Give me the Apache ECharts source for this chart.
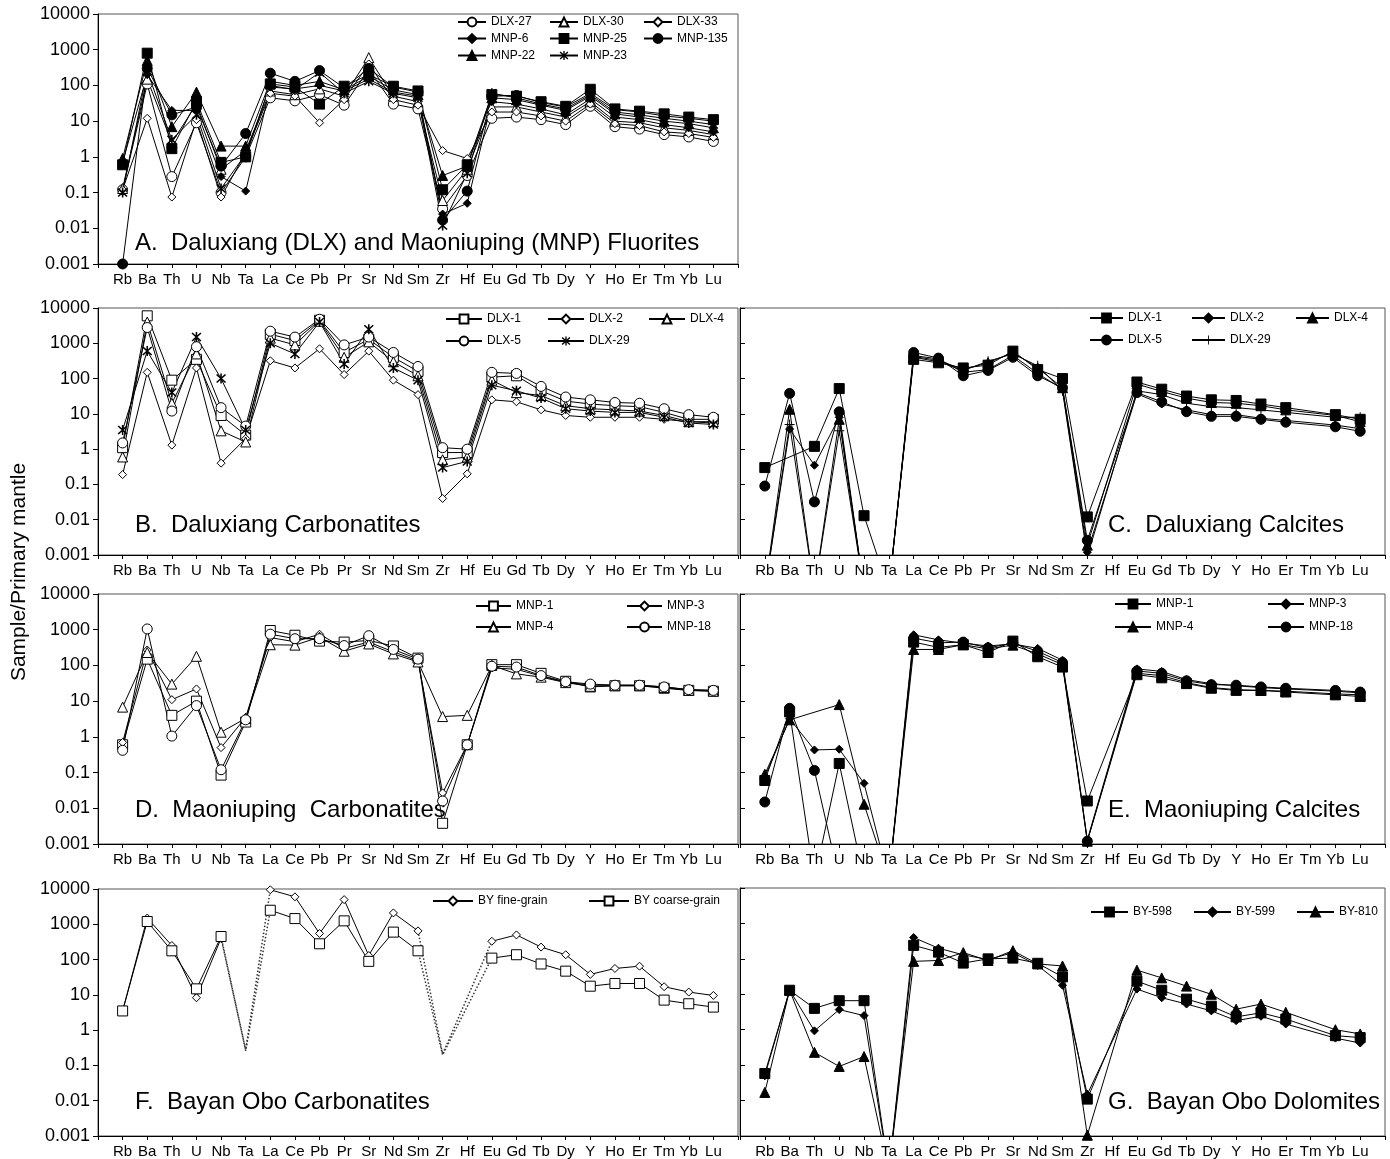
<!DOCTYPE html>
<html>
<head>
<meta charset="utf-8">
<script src="https://cdn.jsdelivr.net/npm/echarts@6/dist/echarts.min.js"></script>
<style>
  html, body { margin: 0; padding: 0; background: #fff; }
  #chart { width: 1390px; height: 1159px; }
</style>
</head>
<body>
<div id="chart"></div>
<script>
// Element order of the primitive-mantle normalised spider diagrams
const ELEMENTS = ['Rb','Ba','Th','U','Nb','Ta','La','Ce','Pb','Pr','Sr','Nd','Sm','Zr','Hf','Eu','Gd','Tb','Dy','Y','Ho','Er','Tm','Yb','Lu'];
const Y_TICK_LABELS = ['0.001','0.01','0.1','1','10','100','1000','10000'];
// Stand-in for contents that fall far below the plotted range (lines leave the frame)
const BELOW = 1e-4;

// A. Daluxiang (DLX) and Maoniuping (MNP) fluorites
const A_DLX27  = [0.12, 110, 0.28, 9, 0.1, 1.0, 45, 37, 55, 28, 280, 30, 22, 0.035, 0.3, 12, 13, 11, 8, 26, 7, 6, 4.2, 3.6, 2.7];
const A_DLX30  = [0.13, 150, 2.5, 30, 0.45, 1.5, 70, 55, 80, 50, 600, 50, 35, 0.06, 0.45, 25, 25, 18, 13, 35, 10, 9, 6.5, 5.5, 4.2];
const A_DLX33  = [0.12, 12, 0.075, 11, 0.075, 1.3, 60, 50, 9, 40, 400, 40, 28, 1.5, 0.9, 18, 18, 14, 10, 30, 8.5, 7.5, 5, 4.5, 3.5];
const A_MNP6   = [0.7, 200, 20, 20, 0.28, 0.11, 90, 80, 100, 70, 150, 65, 50, 0.025, 0.05, 35, 30, 22, 15, 42, 13, 11, 8, 6.5, 5];
const A_MNP25  = [0.6, 800, 1.7, 35, 0.7, 1.0, 110, 90, 30, 95, 200, 95, 70, 0.12, 0.6, 55, 50, 35, 26, 78, 22, 19, 16, 13, 11];
const A_MNP135 = [0.001, 300, 15, 25, 0.55, 4.5, 220, 130, 260, 85, 300, 90, 65, 0.017, 0.11, 50, 52, 33, 25, 60, 21, 18, 14, 12, 10];
const A_MNP22  = [0.9, 500, 7, 65, 2.0, 2.0, 130, 100, 130, 75, 180, 75, 55, 0.3, 0.55, 45, 40, 28, 20, 50, 16, 13, 10, 8.5, 6.5];
const A_MNP23  = [0.1, 250, 3, 15, 0.13, 1.2, 100, 75, 230, 60, 130, 60, 45, 0.012, 0.35, 60, 45, 30, 22, 55, 18, 15, 12, 10, 8];

// B. Daluxiang carbonatites
const B_DLX1  = [1.1, 6000, 90, 350, 9, 2.5, 1800, 1200, 4500, 550, 1300, 400, 160, 0.8, 0.8, 110, 120, 45, 23, 19, 17, 16, 11, 7, 7];
const B_DLX2  = [0.19, 150, 1.3, 200, 0.4, 2.0, 320, 200, 700, 130, 600, 90, 35, 0.04, 0.2, 25, 22, 13, 9, 8, 8, 8, 7, 6, 5.5];
const B_DLX4  = [0.6, 4000, 20, 500, 3.3, 1.6, 1400, 900, 4200, 400, 1100, 300, 120, 0.5, 0.6, 90, 40, 33, 17, 14, 13, 12, 9, 6, 6];
const B_DLX5  = [1.5, 2800, 12, 800, 15, 4.5, 2200, 1500, 4800, 900, 1500, 550, 220, 1.1, 1.0, 150, 140, 60, 30, 25, 21, 20, 14, 9.5, 8];
const B_DLX29 = [3.5, 600, 40, 1500, 100, 3.5, 1000, 500, 4000, 260, 2500, 200, 90, 0.3, 0.45, 65, 45, 28, 14, 12, 11, 11, 8, 5.5, 5];

// C. Daluxiang calcites (null = not determined)
const C_DLX1  = [0.3, null, 1.2, 52, 0.013, BELOW, 350, 280, 200, 240, 600, 180, 100, 0.012, null, 80, 50, 32, 25, 24, 19, 15, null, 9.5, 7];
const C_DLX2  = [BELOW, 3.7, 0.35, 8, BELOW, BELOW, 450, 360, 150, 180, 450, 140, 50, 0.0012, null, 37, 19, 13, 9.5, 9.5, 7.5, 6.5, null, 4.8, 3.8];
const C_DLX4  = [BELOW, 13.5, BELOW, 7, BELOW, BELOW, 420, 330, 180, 280, 550, 200, 55, 0.0019, null, 70, 43, 28, 21, 20, 17, 13, null, 9, 6];
const C_DLX5  = [0.09, 38, 0.032, 11.4, BELOW, BELOW, 550, 380, 120, 170, 400, 120, 55, 0.0026, null, 40, 22, 11.5, 8.5, 8.5, 7, 5.8, null, 4.3, 3.2];
const C_DLX29 = [BELOW, 5, BELOW, 3.3, BELOW, BELOW, 400, 300, 170, 310, 500, 230, 45, 0.0009, null, 45, 35, 20, 16, 15, 13, 11, null, 8, 8];

// D. Maoniuping carbonatites
const D_MNP1  = [0.6, 150, 4, 10, 0.085, 2.6, 950, 700, 480, 450, 500, 350, 160, 0.0038, 0.6, 105, 105, 60, 36, 25, 27, 27, 23, 20, 19];
const D_MNP3  = [0.7, 270, 11, 22, 0.5, 3.5, 600, 460, 750, 300, 450, 240, 135, 0.027, 0.6, 85, 78, 50, 34, 28, 28, 28, 25, 21, 20];
const D_MNP4  = [6.8, 230, 30, 180, 1.35, 3.3, 380, 370, 620, 250, 400, 210, 125, 3.7, 4.0, 100, 58, 47, 33, 26, 27, 27, 24, 20, 19];
const D_MNP18 = [0.42, 1050, 1.05, 7.5, 0.12, 3.0, 750, 560, 560, 360, 680, 280, 150, 0.016, 0.6, 95, 90, 52, 35, 30, 28, 28, 25, 21, 20];

// E. Maoniuping calcites
const E_MNP1  = [0.06, 5, BELOW, 0.18, BELOW, BELOW, 450, 320, 380, 230, 480, 175, 90, 0.016, null, 55, 45, 31, 23, 20, 20, 18, null, 15, 13.5];
const E_MNP3  = [0.075, 3.2, 0.43, 0.45, 0.05, BELOW, 720, 520, 420, 350, 400, 300, 140, 0.0013, null, 80, 68, 40, 31, 27, 24, 22, null, 19, 17];
const E_MNP4  = [0.09, 3.0, null, 8, 0.013, BELOW, 280, 280, 380, 290, 370, 210, 105, 0.0012, null, 60, 52, 33, 24, 21, 20, 19, null, 16, 15];
const E_MNP18 = [0.015, 6.3, 0.115, BELOW, BELOW, BELOW, 580, 430, 450, 310, 420, 250, 120, 0.0012, null, 70, 60, 37, 29, 28, 25, 23, null, 20, 18];

// F. Bayan Obo carbonatites (Ta and Zr are estimated, drawn as dotted links)
const F_FINE   = [3.5, 1500, 250, 8.3, 400, 0.28, 9500, 6000, 550, 5000, 130, 2100, 650, 0.21, null, 330, 500, 226, 137, 38, 56, 65, 17, 12, 9.6];
const F_COARSE = [3.5, 1200, 177, 14.8, 450, 0.26, 2500, 1450, 280, 1250, 89, 600, 177, 0.2, null, 110, 137, 75, 47, 17.6, 21, 21, 7.1, 5.6, 4.5];
const F_ESTIMATED = ['Ta', 'Zr'];

// G. Bayan Obo dolomites
const G_BY598 = [0.058, 13, 4.0, 6.6, 6.6, BELOW, 240, 155, 76, 100, 105, 75, 31, 0.011, null, 23.5, 13, 7.3, 4.6, 2.3, 3.0, 2.0, null, 0.68, 0.6];
const G_BY599 = [0.05, 13, 0.93, 3.7, 2.5, BELOW, 400, 200, 130, 95, 150, 65, 18, 0.015, null, 14, 8, 5.3, 3.4, 1.8, 2.4, 1.45, null, 0.58, 0.42];
const G_BY810 = [0.017, 13, 0.23, 0.092, 0.175, BELOW, 85, 90, 150, 90, 170, 72, 63, 0.00105, null, 48, 29, 17, 10, 3.8, 5.3, 3.1, null, 1.0, 0.76];

// ---------------------------------------------------------------------------
const FONT = "'Liberation Sans', Arial, Helvetica, sans-serif";
const ASTERISK = 'path://M4.3,0L5.7,0L5.7,10L4.3,10Z M0.5,1.5L1.5,0.5L9.5,8.5L8.5,9.5Z M8.5,0.5L9.5,1.5L1.5,9.5L0.5,8.5Z';
const PLUS = 'path://M4.5,0L5.5,0L5.5,10L4.5,10Z M0,4.5L10,4.5L10,5.5L0,5.5Z';

const MARK = {
  openCircle:   { symbol: 'circle',   size: 10, fill: '#fff' },
  openSquare:   { symbol: 'rect',     size: 10, fill: '#fff' },
  openTriangle: { symbol: 'triangle', size: 10, fill: '#fff' },
  openDiamond:  { symbol: 'diamond',  size: 8,  fill: '#fff' },
  circle:       { symbol: 'circle',   size: 10, fill: '#000' },
  square:       { symbol: 'rect',     size: 10, fill: '#000' },
  triangle:     { symbol: 'triangle', size: 10, fill: '#000' },
  diamond:      { symbol: 'diamond',  size: 8,  fill: '#000' },
  asterisk:     { symbol: ASTERISK,   size: 10, fill: '#000', path: true },
  plus:         { symbol: PLUS,       size: 10, fill: '#000', path: true }
};

const PANELS = [
  { key: 'A', grid: { left: 98, top: 14, width: 640, height: 250 }, yLabels: true, connect: false,
    title: 'A.  Daluxiang (DLX) and Maoniuping (MNP) Fluorites', titleAt: [135, 243],
    samples: [['DLX-27', A_DLX27, 'openCircle'], ['DLX-30', A_DLX30, 'openTriangle'], ['DLX-33', A_DLX33, 'openDiamond'],
              ['MNP-6', A_MNP6, 'diamond'], ['MNP-25', A_MNP25, 'square'], ['MNP-135', A_MNP135, 'circle'],
              ['MNP-22', A_MNP22, 'triangle'], ['MNP-23', A_MNP23, 'asterisk']],
    legend: { rows: [23, 39.5, 56.5], cols: [457, 549, 643], iconW: 28 } },
  { key: 'B', grid: { left: 98, top: 308, width: 640, height: 247 }, yLabels: true, connect: false,
    title: 'B.  Daluxiang Carbonatites', titleAt: [135, 525],
    samples: [['DLX-1', B_DLX1, 'openSquare'], ['DLX-2', B_DLX2, 'openDiamond'], ['DLX-4', B_DLX4, 'openTriangle'],
              ['DLX-5', B_DLX5, 'openCircle'], ['DLX-29', B_DLX29, 'asterisk']],
    legend: { rows: [320, 342], cols: [445, 547, 648], iconW: 36 } },
  { key: 'C', grid: { left: 740, top: 308, width: 645, height: 247 }, yLabels: false, connect: true,
    title: 'C.  Daluxiang Calcites', titleAt: [1108, 525],
    samples: [['DLX-1', C_DLX1, 'square'], ['DLX-2', C_DLX2, 'diamond'], ['DLX-4', C_DLX4, 'triangle'],
              ['DLX-5', C_DLX5, 'circle'], ['DLX-29', C_DLX29, 'plus']],
    legend: { rows: [319, 341], cols: [1089, 1191, 1295], iconW: 33 } },
  { key: 'D', grid: { left: 98, top: 594, width: 640, height: 250 }, yLabels: true, connect: false,
    title: 'D.  Maoniuping  Carbonatites', titleAt: [135, 810],
    samples: [['MNP-1', D_MNP1, 'openSquare'], ['MNP-3', D_MNP3, 'openDiamond'],
              ['MNP-4', D_MNP4, 'openTriangle'], ['MNP-18', D_MNP18, 'openCircle']],
    legend: { rows: [607, 628], cols: [475, 626], iconW: 35 } },
  { key: 'E', grid: { left: 740, top: 594, width: 645, height: 250 }, yLabels: false, connect: true,
    title: 'E.  Maoniuping Calcites', titleAt: [1108, 810],
    samples: [['MNP-1', E_MNP1, 'square'], ['MNP-3', E_MNP3, 'diamond'],
              ['MNP-4', E_MNP4, 'triangle'], ['MNP-18', E_MNP18, 'circle']],
    legend: { rows: [605, 628], cols: [1114, 1267], iconW: 36 } },
  { key: 'F', grid: { left: 98, top: 889, width: 640, height: 248 }, yLabels: true, connect: false,
    estimated: F_ESTIMATED,
    title: 'F.  Bayan Obo Carbonatites', titleAt: [135, 1102],
    samples: [['BY fine-grain', F_FINE, 'openDiamond'], ['BY coarse-grain', F_COARSE, 'openSquare']],
    legend: { rows: [902], cols: [432, 588], iconW: 40 } },
  { key: 'G', grid: { left: 740, top: 888, width: 645, height: 249 }, yLabels: false, connect: true,
    title: 'G.  Bayan Obo Dolomites', titleAt: [1108, 1102],
    samples: [['BY-598', G_BY598, 'square'], ['BY-599', G_BY599, 'diamond'], ['BY-810', G_BY810, 'triangle']],
    legend: { rows: [913], cols: [1090, 1193, 1296], iconW: 37 } }
];

const grids = [], xAxes = [], yAxes = [], series = [], legends = [], graphics = [];

function points(values) {
  return values.map((v, i) => [i, v == null ? '-' : v]);
}

PANELS.forEach((p, idx) => {
  grids.push(Object.assign({ show: true, borderColor: '#555', borderWidth: 1, containLabel: false }, p.grid));

  xAxes.push({
    type: 'value', gridIndex: idx, min: -1, max: ELEMENTS.length, interval: 1,
    axisLine: { show: true, onZero: false, lineStyle: { color: '#000', width: 1 } },
    axisTick: { show: true, length: 4, lineStyle: { color: '#000' } },
    axisLabel: { margin: 8, fontSize: 15, fontFamily: FONT, color: '#000',
                 formatter: v => ELEMENTS[Math.round(v)] || '' },
    splitLine: { show: false }
  });

  yAxes.push({
    type: 'log', logBase: 10, gridIndex: idx, min: 0.001, max: 10000, splitNumber: 7,
    axisLine: { show: true, onZero: false, lineStyle: { color: '#000', width: 1 } },
    axisTick: { show: true, inside: !p.yLabels, length: 5, lineStyle: { color: '#000' } },
    axisLabel: { show: p.yLabels, margin: 8, fontSize: 18, fontFamily: FONT, color: '#000',
                 formatter: v => Y_TICK_LABELS[Math.round(Math.log10(v)) + 3] },
    splitLine: { show: false }
  });

  const estIdx = (p.estimated || []).map(el => ELEMENTS.indexOf(el));

  p.samples.forEach(([label, values, markKey], i) => {
    const m = MARK[markKey];
    const name = label + '@' + p.key;
    const solid = values.map((v, k) => estIdx.includes(k) ? null : v);

    // dotted links through estimated elements, drawn beneath the measured line
    estIdx.forEach((k, j) => {
      let a = k - 1; while (a >= 0 && (solid[a] == null)) a--;
      let b = k + 1; while (b < values.length && (solid[b] == null)) b++;
      series.push({
        type: 'line', name: name + '#link' + j, xAxisIndex: idx, yAxisIndex: idx,
        data: [[a, values[a]], [k, values[k]], [b, values[b]]],
        symbol: 'none', connectNulls: true, silent: true, animation: false,
        lineStyle: { color: '#333', width: 1.5, type: [1.5, 2] },
        emphasis: { disabled: true }
      });
    });

    series.push({
      type: 'line', name, xAxisIndex: idx, yAxisIndex: idx,
      data: points(solid),
      symbol: m.symbol, symbolSize: m.size, showSymbol: true,
      connectNulls: p.connect, clip: true, silent: true, animation: false,
      itemStyle: { color: m.fill, borderColor: '#000', borderWidth: m.path ? 0 : 1 },
      lineStyle: { color: '#000', width: 1 },
      emphasis: { disabled: true }
    });

    const nCols = p.legend.cols.length;
    legends.push({
      data: [name], left: p.legend.cols[i % nCols], top: p.legend.rows[Math.floor(i / nCols)] - 7,
      padding: 0, itemWidth: p.legend.iconW, itemHeight: 11, itemGap: 0, selectedMode: false,
      formatter: n => n.split('@')[0],
      textStyle: { fontSize: 12, fontFamily: FONT, color: '#000' }
    });
  });

  graphics.push({
    type: 'text', x: p.titleAt[0], y: p.titleAt[1], silent: true,
    style: { text: p.title, fontSize: 24, fontFamily: FONT, fill: '#000', align: 'left', verticalAlign: 'middle' }
  });
});

graphics.push({
  type: 'text', x: 19, y: 572, rotation: Math.PI / 2, silent: true,
  style: { text: 'Sample/Primary mantle', fontSize: 21, fontFamily: FONT, fill: '#000', align: 'center', verticalAlign: 'middle' }
});

const chart = echarts.init(document.getElementById('chart'), null, { renderer: 'canvas' });
chart.setOption({
  backgroundColor: '#fff',
  animation: false,
  grid: grids,
  xAxis: xAxes,
  yAxis: yAxes,
  legend: legends,
  graphic: graphics,
  series: series
});
</script>
</body>
</html>
